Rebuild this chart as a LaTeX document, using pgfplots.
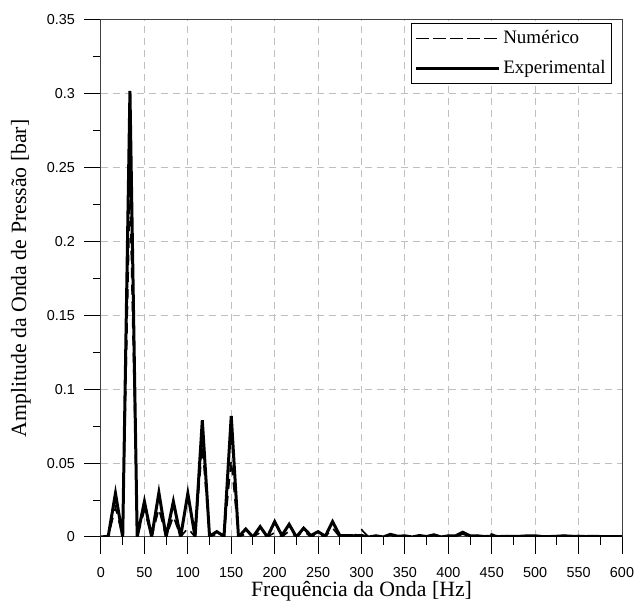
\documentclass[border=0pt]{standalone}
\usepackage{pgfplots}
\pgfplotsset{compat=1.18}
\usepackage{pgfplotstable}
\usepackage{fontspec}
\setmainfont{Liberation Serif}
\newfontfamily\ticklbl{Liberation Sans}

% Pressure-wave amplitude spectrum: f [Hz], numerical, experimental [bar]
\pgfplotstableread{
f        num     exp
0        0       0
8.333    0       0.0005
16.667   0.020   0.0296
25       0       0
33.333   0.235   0.302
41.667   0       0
50       0.018   0.024
58.333   0       0
66.667   0.019   0.030
75       0       0
83.333   0.014   0.024
91.667   0       0
100      0.006   0.0295
108.333  0       0
116.667  0.062   0.079
125      0       0.0005
133.333  0.002   0.0036
141.667  0       0.0005
150      0.052   0.082
158.333  0       0
166.667  0.002   0.0054
175      0       0
183.333  0.003   0.007
191.667  0       0
200      0.003   0.0104
208.333  0       0.001
216.667  0.004   0.0086
225      0       0
233.333  0.004   0.006
241.667  0       0.001
250      0.002   0.0036
258.333  0       0.0005
266.667  0.006   0.0104
275      0       0.001
283.333  0       0.001
291.667  0.001   0.0008
300      0.005   0.001
308.333  0       0
316.667  0.001   0.0008
325      0       0
333.333  0.001   0.0018
341.667  0       0.0005
350      0.001   0.0008
358.333  0       0
366.667  0.001   0.001
375      0       0.0003
383.333  0.001   0.0015
391.667  0       0
400      0.001   0.0008
408.333  0       0.0008
416.667  0.002   0.0032
425      0       0.0008
433.333  0.001   0.0008
441.667  0       0.0003
450      0.002   0.0005
458.333  0       0.0003
466.667  0.001   0.0005
475      0       0.0005
483.333  0       0.0005
491.667  0       0.0008
500      0.001   0.0008
508.333  0       0.0003
516.667  0       0.0003
525      0       0.0005
533.333  0.001   0.0008
541.667  0       0.0005
550      0.001   0.0005
558.333  0       0.0003
566.667  0       0.0005
575      0       0.0003
583.333  0       0.0003
591.667  0       0.0003
600      0       0.0003
}\spectrum

\begin{document}
\begin{tikzpicture}
\useasboundingbox (-101pt,-64pt) rectangle (534pt,537pt);
\begin{axis}[
  at={(0pt,0pt)}, anchor=south west,
  width=521pt, height=517pt, scale only axis,
  xmin=0, xmax=600, ymin=0, ymax=0.35,
  xtick={0,50,...,600},
  ytick={0,0.05,...,0.35},
  minor x tick num=1, minor y tick num=1,
  xtick pos=left, ytick pos=left,
  % ticks drawn outward via negative lengths, labels placed explicitly
  tick align=inside,
  major tick length=-17pt, minor tick length=-8pt,
  every tick/.style={black, line width=1pt},
  axis line style={black!75, line width=1pt},
  grid=major,
  major grid style={black!25, line width=1pt, dash pattern=on 7pt off 5pt},
  scaled y ticks=false,
  yticklabel style={/pgf/number format/fixed, /pgf/number format/precision=2,
    anchor=east, inner sep=0pt, xshift=-26pt},
  xticklabel style={anchor=north, inner sep=0pt, yshift=-30pt},
  /pgf/number format/assume math mode=true,
  tick label style={font=\ticklbl\fontsize{14.4}{17}\selectfont},
  xlabel={Frequência da Onda [Hz]},
  ylabel={Amplitude da Onda de Pressão [bar]},
  every axis x label/.style={at={(axis description cs:0.5,0)}, yshift=-59.5pt,
    anchor=base, inner sep=0pt, font=\fontsize{21.8}{24}\selectfont},
  every axis y label/.style={at={(axis description cs:0,0.5)}, xshift=-80pt, anchor=center,
    rotate=90, font=\fontsize{21.8}{24}\selectfont},
  legend style={at={(rel axis cs:0.981,0.994)}, anchor=north east,
    draw=black, line width=1pt, fill=white,
    font=\fontsize{19}{22}\selectfont,
    inner xsep=3pt, inner ysep=3.5pt, row sep=7pt,
    nodes={inner xsep=3pt, inner ysep=2pt, text height=14pt, text depth=5pt}},
  legend cell align=left,
  legend image code/.code={\draw[#1] (0pt,0pt) -- (78pt,0pt);
    \path (-3pt,0pt) -- (80pt,0pt);},
]
\addplot[black, line width=1.6pt, dash pattern=on 10pt off 7pt] table[x=f, y=num] {\spectrum};
\addlegendentry{Numérico}
\addplot[black, line width=3pt] table[x=f, y=exp] {\spectrum};
\addlegendentry{Experimental}
\end{axis}
\end{tikzpicture}
\end{document}
